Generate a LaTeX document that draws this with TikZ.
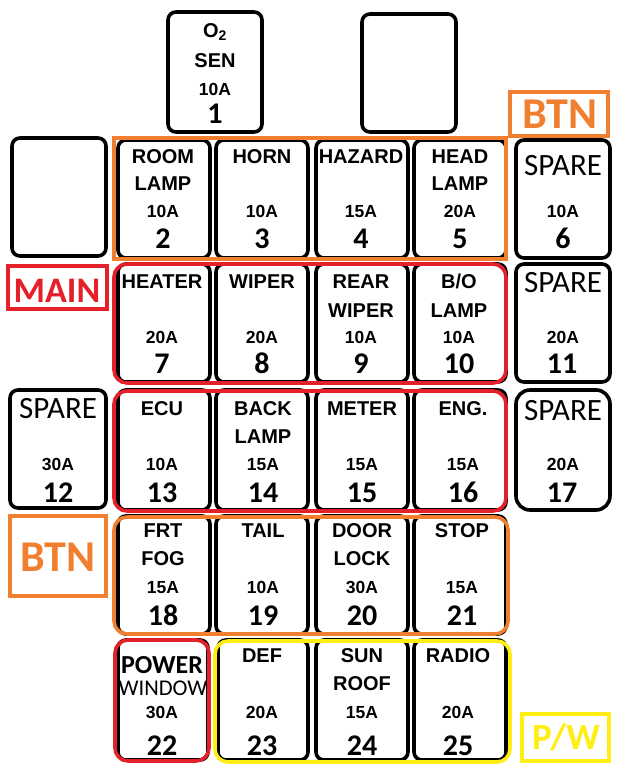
\documentclass[tikz,border=0pt]{standalone}
\usepackage{fontspec}
\newfontfamily\calfont{Carlito}
\newfontfamily\labfont{Liberation Sans}
\definecolor{cOrange}{RGB}{240,128,48}
\definecolor{cRed}{RGB}{228,32,42}
\definecolor{cYellow}{RGB}{255,238,20}
\tikzset{
  fusebox/.style={draw=black, line width=3.6pt, rounded corners=8pt},
  grp/.style={line width=3.6pt, rounded corners=13pt},
  tagbox/.style={line width=3.6pt},
  lab/.style={anchor=base, inner sep=0pt, font=\labfont\bfseries\fontsize{20}{20}\selectfont},
  ampl/.style={anchor=base, inner sep=0pt, font=\labfont\bfseries\fontsize{17.5}{17.5}\selectfont},
  num/.style={anchor=base, inner sep=0pt, font=\calfont\bfseries\fontsize{30}{30}\selectfont},
  spare/.style={anchor=base, inner sep=0pt, font=\calfont\fontsize{31}{31}\selectfont},
  tag/.style={anchor=base, inner sep=0pt, font=\calfont\bfseries\fontsize{#1}{#1}\selectfont},
}
\newcommand\fusetxt[6]{%
  \if\relax\detokenize{#3}\relax\else\node[lab] (#1a) at (#2,\ya) {#3};\fi
  \if\relax\detokenize{#4}\relax\else\node[lab] (#1b) at (#2,\yb) {#4};\fi
  \node[ampl] (#1c) at (#2,\yc) {#5};
  \node[num] (#1n) at (#2,\yd) {#6};
}
\begin{document}
\begin{tikzpicture}[x=1pt,y=-1pt]
\useasboundingbox (0,0) rectangle (618,769);
\fill[white] (0,0) rectangle (618,769);
% ---- black fuse outlines ----
\draw[fusebox] (168,12) rectangle (262,132);
\draw[fusebox] (362,14) rectangle (456,132);
% row 2
\draw[fusebox] (12,138) rectangle (106,256);
\foreach \xl/\xr in {118/210,216/308,316/408,414/506}
  \draw[fusebox] (\xl,140) rectangle (\xr,258);
\draw[fusebox] (516,140) rectangle (610,258);
% row 3
\foreach \xl/\xr in {118/210,216/308,316/408,414/506}
  \draw[fusebox] (\xl,264) rectangle (\xr,382);
\draw[fusebox] (516,264) rectangle (610,382);
% row 4
\draw[fusebox] (10,390) rectangle (106,508);
\foreach \xl/\xr in {118/210,216/308,316/408,414/506}
  \draw[fusebox] (\xl,390) rectangle (\xr,510);
\draw[fusebox, rounded corners=14pt] (516,390) rectangle (610,510);
% row 5
\foreach \xl/\xr in {118/210,216/308,316/408,414/506}
  \draw[fusebox] (\xl,516) rectangle (\xr,634);
% row 6
\foreach \xl/\xr in {118/208,218/308,316/408,414/506}
  \draw[fusebox] (\xl,640) rectangle (\xr,760);
% ---- coloured groups ----
\draw[tagbox, draw=cOrange] (114,138) rectangle (506,259);
\draw[grp, draw=cRed] (114,264) rectangle (506,383);
\draw[grp, draw=cRed] (114,391) rectangle (506,511);
\draw[grp, draw=cOrange] (114,517) rectangle (508,634);
\draw[grp, draw=cRed] (115,640) rectangle (209,761);
\draw[grp, draw=cYellow] (215,641) rectangle (510,762);
% ---- tags ----
\draw[tagbox, draw=cOrange] (510,92) rectangle (608,136);
\node[tag=44, text=cOrange] (btnA) at (560,128) {BTN};
\draw[tagbox, draw=cRed] (8,266) rectangle (107,309);
\node[tag=36, text=cRed] (mainT) at (57,302) {MAIN};
\draw[tagbox, draw=cOrange] (10,516) rectangle (106,596);
\node[tag=44, text=cOrange] (btnB) at (58,571) {BTN};
\draw[tagbox, draw=cYellow] (522,714) rectangle (609,761);
\node[tag=37, text=cYellow] (pwT) at (566,749) {P/W};
% ---- fuse 1 ----
\node[lab] (f1a) at (215,37) {O\textsubscript{2}};
\node[lab] (f1b) at (215,67) {SEN};
\node[ampl] (f1c) at (215,95) {10A};
\node[num] (f1n) at (215,123) {1};
% ---- row 2 ----
\def\ya{163}\def\yb{190}\def\yc{217}\def\yd{248}
\fusetxt{f2}{163}{ROOM}{LAMP}{10A}{2}
\fusetxt{f3}{262}{HORN}{}{10A}{3}
\fusetxt{f4}{361}{HAZARD}{}{15A}{4}
\fusetxt{f5}{460}{HEAD}{LAMP}{20A}{5}
\node[spare] (f6a) at (563,175) {SPARE};
\node[ampl] (f6c) at (563,\yc) {10A};
\node[num] (f6n) at (563,\yd) {6};
% ---- row 3 ----
\def\ya{288}\def\yb{317}\def\yc{343}\def\yd{373}
\fusetxt{f7}{162}{HEATER}{}{20A}{7}
\fusetxt{f8}{262}{WIPER}{}{20A}{8}
\fusetxt{f9}{361}{REAR}{WIPER}{10A}{9}
\fusetxt{f10}{459}{B/O}{LAMP}{10A}{10}
\node[spare] (f11a) at (563,292) {SPARE};
\node[ampl] (f11c) at (563,\yc) {20A};
\node[num] (f11n) at (562,\yd) {11};
% ---- row 4 ----
\def\ya{415}\def\yb{443}\def\yc{470}\def\yd{502}
\node[spare] (f12a) at (58,418) {SPARE};
\node[ampl] (f12c) at (58,\yc) {30A};
\node[num] (f12n) at (58,\yd) {12};
\fusetxt{f13}{162}{ECU}{}{10A}{13}
\fusetxt{f14}{263}{BACK}{LAMP}{15A}{14}
\fusetxt{f15}{362}{METER}{}{15A}{15}
\fusetxt{f16}{463}{ENG.}{}{15A}{16}
\node[spare] (f17a) at (563,420) {SPARE};
\node[ampl] (f17c) at (563,\yc) {20A};
\node[num] (f17n) at (562,\yd) {17};
% ---- row 5 ----
\def\ya{537}\def\yb{565}\def\yc{593}\def\yd{625}
\fusetxt{f18}{163}{FRT}{FOG}{15A}{18}
\fusetxt{f19}{263}{TAIL}{}{10A}{19}
\fusetxt{f20}{362}{DOOR}{LOCK}{30A}{20}
\fusetxt{f21}{462}{STOP}{}{15A}{21}
% ---- row 6 ----
\def\ya{662}\def\yb{690}\def\yc{718}\def\yd{755}
\node[anchor=base, inner sep=0pt, font=\calfont\bfseries\fontsize{26}{26}\selectfont] (f22a) at (162,673) {POWER};
\node[anchor=base, inner sep=0pt, font=\calfont\fontsize{22.5}{22.5}\selectfont] (f22b) at (163,695) {WINDOW};
\node[ampl] (f22c) at (162,\yc) {30A};
\node[num] (f22n) at (162,\yd) {22};
\fusetxt{f23}{262}{DEF}{}{20A}{23}
\fusetxt{f24}{362}{SUN}{ROOF}{15A}{24}
\fusetxt{f25}{458}{RADIO}{}{20A}{25}
\end{tikzpicture}
\end{document}
